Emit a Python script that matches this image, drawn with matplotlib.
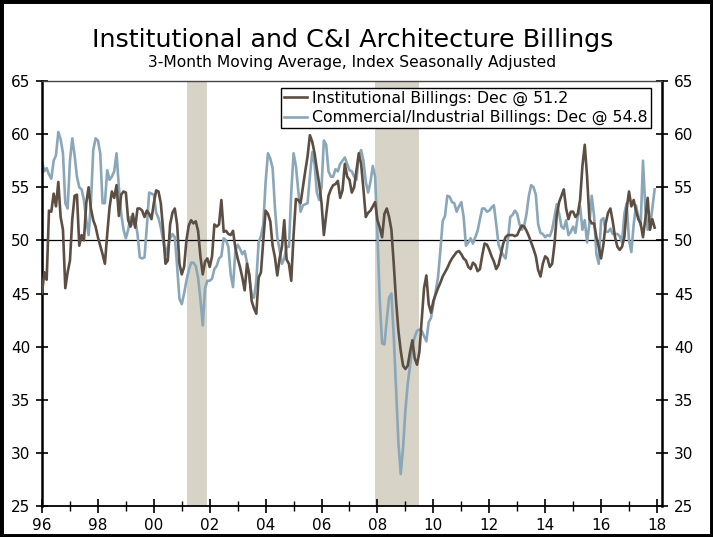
import numpy as np
import matplotlib
matplotlib.use("Agg")
import matplotlib.pyplot as plt
from matplotlib.patches import Rectangle

# ---------------- data (monthly, Jan 1996 - Dec 2017) ----------------
start_year = 1996
institutional = [
    45.0, 47.0, 46.3, 52.8, 52.7, 54.4, 53.2, 55.5, 52.2, 51.0, 45.5, 47.0,   # 1996
    48.1, 52.0, 54.2, 54.3, 49.5, 50.5, 50.0, 53.5, 55.0, 53.0, 51.9, 51.3,   # 1997
    50.3, 49.5, 48.7, 47.8, 50.6, 53.1, 54.6, 54.0, 55.2, 52.3, 54.3, 54.6,   # 1998
    54.5, 51.9, 51.3, 52.5, 51.2, 53.0, 53.0, 52.8, 52.2, 52.8, 52.5, 52.0,   # 1999
    53.5, 54.7, 54.6, 53.5, 51.0, 47.8, 48.1, 51.5, 52.6, 53.0, 51.5, 47.8,   # 2000
    46.8, 47.5, 50.0, 51.4, 51.9, 51.6, 51.8, 50.9, 48.5, 46.8, 48.0, 48.3,   # 2001
    47.5, 48.5, 51.5, 51.3, 51.5, 53.8, 50.8, 50.9, 50.6, 50.5, 50.9, 49.3,   # 2002
    48.3, 47.5, 46.5, 45.3, 47.8, 46.8, 44.3, 43.6, 43.1, 46.5, 47.0, 50.0,   # 2003
    52.8, 52.5, 51.8, 49.5, 48.4, 46.7, 48.3, 49.4, 51.9, 48.2, 47.8, 46.2,   # 2004
    50.5, 53.9, 53.8, 53.5, 55.0, 56.5, 57.9, 59.9, 59.3, 58.2, 56.7, 55.3,   # 2005
    53.5, 50.5, 52.4, 54.2, 54.8, 55.2, 55.3, 55.6, 54.0, 54.7, 57.2, 56.0,   # 2006
    55.7, 54.5, 55.0, 56.6, 58.2, 57.2, 54.8, 52.2, 52.6, 52.8, 53.2, 53.6,   # 2007
    51.9, 51.2, 50.3, 52.5, 53.0, 52.2, 51.0, 47.8, 44.3, 41.5, 39.6, 38.2,   # 2008
    37.9, 38.2, 39.5, 40.6, 38.9, 38.3, 39.5, 42.5, 45.5, 46.7, 44.0, 43.2,   # 2009
    44.3, 44.9, 45.5, 46.0, 46.6, 47.0, 47.4, 47.9, 48.3, 48.6, 48.9, 49.0,   # 2010
    48.7, 48.3, 48.1, 47.5, 47.3, 47.9, 47.7, 47.1, 47.3, 48.6, 49.7, 49.6,   # 2011
    49.1, 48.5, 48.0, 47.3, 47.7, 48.7, 49.7, 50.3, 50.5, 50.5, 50.5, 50.4,   # 2012
    50.5, 51.0, 51.4, 51.3, 50.9, 50.4, 49.8, 49.2, 48.5, 47.2, 46.6, 47.8,   # 2013
    48.5, 48.3, 47.5, 47.8, 49.6, 52.4, 53.6, 54.2, 54.8, 53.0, 52.0, 52.7,   # 2014
    52.7, 52.2, 52.5, 53.8, 57.0, 59.0, 56.0, 52.0, 51.6, 51.6, 50.3, 49.4,   # 2015
    48.3, 49.6, 51.6, 52.6, 53.0, 51.8, 50.3, 49.4, 49.1, 49.4, 50.3, 53.0,   # 2016
    54.6, 53.2, 53.8, 52.8, 52.0, 51.6, 50.3, 52.0, 54.0, 51.0, 52.0, 51.2,   # 2017
]
commercial = [
    57.4, 56.5, 56.8, 56.2, 55.8, 57.5, 58.0, 60.2, 59.5, 58.2, 53.5, 53.0,   # 1996
    57.5, 59.6, 58.0, 56.0, 55.0, 54.8, 53.8, 51.9, 50.5, 53.5, 58.5, 59.6,   # 1997
    59.4, 58.2, 53.5, 53.5, 56.6, 55.7, 56.0, 56.5, 58.2, 55.0, 52.5, 51.0,   # 1998
    50.2, 51.0, 52.2, 51.5, 51.9, 50.6, 48.4, 48.3, 48.4, 51.3, 54.5, 54.4,   # 1999
    54.3, 52.6, 52.1, 51.2, 50.0, 48.6, 49.4, 50.2, 50.6, 50.3, 47.6, 44.5,   # 2000
    44.0, 45.0, 46.2, 47.2, 47.9, 47.9, 47.6, 46.5, 44.5, 42.0, 45.5, 46.2,   # 2001
    46.2, 46.4, 47.3, 47.6, 48.3, 48.5, 50.2, 50.0, 49.4, 46.8, 45.6, 49.0,   # 2002
    49.6, 49.2, 48.7, 49.0, 47.9, 46.5, 44.9, 44.6, 46.2, 49.8, 50.4, 51.5,   # 2003
    55.5, 58.2, 57.7, 56.8, 53.1, 50.3, 49.1, 47.8, 48.3, 49.4, 49.4, 54.5,   # 2004
    58.2, 57.0, 54.7, 52.7, 53.3, 53.4, 53.5, 56.0, 58.3, 57.2, 54.5, 53.8,   # 2005
    55.0, 59.4, 59.0, 56.5, 56.0, 56.0, 56.7, 56.5, 57.2, 57.5, 57.8, 57.2,   # 2006
    56.6, 56.5, 56.0, 55.7, 58.0, 58.5, 57.5, 55.5, 54.5, 55.5, 57.0, 56.0,   # 2007
    50.6, 44.3, 40.3, 40.2, 42.5, 44.6, 45.0, 41.0, 36.0, 31.0, 28.0, 30.5,   # 2008
    34.0, 36.5, 38.2, 40.0, 40.9, 41.5, 41.6, 41.5, 41.0, 40.5, 42.3, 42.7,   # 2009
    44.0, 45.2, 46.5, 49.0, 51.8, 52.3, 54.2, 54.1, 53.6, 53.5, 52.7, 53.2,   # 2010
    53.6, 52.2, 49.5, 49.8, 50.2, 49.7, 50.3, 50.9, 52.0, 53.0, 53.0, 52.7,   # 2011
    52.8, 53.1, 53.3, 51.5, 49.6, 49.0, 48.6, 48.3, 50.0, 52.2, 52.4, 52.8,   # 2012
    52.5, 51.5, 51.0, 51.4, 52.5, 54.2, 55.2, 55.0, 54.3, 51.5, 50.7, 50.6,   # 2013
    50.3, 50.5, 50.4, 51.0, 52.2, 53.4, 52.5, 51.3, 51.1, 51.9, 50.5, 50.8,   # 2014
    51.3, 50.7, 52.3, 53.2, 51.0, 51.9, 49.8, 51.6, 54.2, 52.3, 48.7, 47.8,   # 2015
    51.9, 52.1, 50.8, 50.8, 51.1, 50.6, 50.6, 50.6, 50.4, 49.8, 52.5, 53.5,   # 2016
    50.0, 48.9, 51.5, 53.3, 52.2, 51.4, 57.5, 53.0, 51.0, 51.2, 53.0, 54.8,   # 2017
]
recessions = [(2001.17, 2001.92), (2007.92, 2009.5)]
xtick_years = list(range(1996, 2019, 2))
xtick_labels = ["96", "98", "00", "02", "04", "06", "08", "10", "12", "14", "16", "18"]
yticks = [25, 30, 35, 40, 45, 50, 55, 60, 65]
legend_labels = ["Institutional Billings: Dec @ 51.2",
                 "Commercial/Industrial Billings: Dec @ 54.8"]

# ---------------- style ----------------
BROWN = "#5c4e43"
BLUE = "#8aa7b9"
BAND = "#d7d3c7"
plt.rcParams["font.family"] = ["DejaVu Sans"]

W, H = 713, 537
fig = plt.figure(figsize=(W / 100, H / 100), dpi=100)
fig.patch.set_facecolor("white")

ax_l, ax_r, ax_t, ax_b = 42, 662, 81, 506
ax = fig.add_axes([ax_l / W, 1 - ax_b / H, (ax_r - ax_l) / W, (ax_b - ax_t) / H])

t = start_year + np.arange(len(institutional)) / 12.0

for a, b in recessions:
    ax.axvspan(a, b, color=BAND, lw=0, zorder=0)
ax.axhline(50, color="black", lw=0.9, zorder=1)

l1, = ax.plot(t, institutional, color=BROWN, lw=1.9, zorder=3, solid_joinstyle="round")
l2, = ax.plot(t, commercial, color=BLUE, lw=1.9, zorder=2, solid_joinstyle="round")

ax.set_xlim(1996, 2018.18)
ax.set_ylim(25, 65)
ax.set_yticks(yticks)
ax.set_xticks(xtick_years)
ax.set_xticklabels(xtick_labels)
ax.set_xticks(list(range(1996, 2019)), minor=True)

ax.tick_params(axis="both", which="both", direction="inout", labelsize=11, colors="black")
ax.tick_params(axis="y", which="major", length=9, width=1.2, left=True, right=True,
               labelleft=True, labelright=True, pad=4)
ax.tick_params(axis="x", which="major", length=10, width=1.2, pad=4)
ax.tick_params(axis="x", which="minor", length=7, width=1.0)

for side in ["left", "right"]:
    ax.spines[side].set_linewidth(1.8)
ax.spines["bottom"].set_linewidth(1.3)
ax.spines["top"].set_linewidth(1.0)
ax.spines["top"].set_color("#444444")

leg = ax.legend([l1, l2], legend_labels, loc="upper left",
                bbox_to_anchor=(0.385, 0.984), fontsize=11.3, frameon=True,
                fancybox=False, framealpha=1, edgecolor="black",
                handlelength=1.5, handletextpad=0.3, borderpad=0.2,
                labelspacing=0.25, borderaxespad=0)
leg.get_frame().set_linewidth(1.0)

fig.text(0.494, 1 - 40 / H, "Institutional and C&I Architecture Billings",
         ha="center", va="center", fontsize=18.3)
fig.text(0.494, 1 - 63 / H, "3-Month Moving Average, Index Seasonally Adjusted",
         ha="center", va="center", fontsize=11.2)

fig.patches.append(Rectangle((0, 0), 1, 1, transform=fig.transFigure, fill=False,
                             lw=5, ec="black", zorder=10))

fig.savefig("out.png", dpi=100, facecolor="white")
